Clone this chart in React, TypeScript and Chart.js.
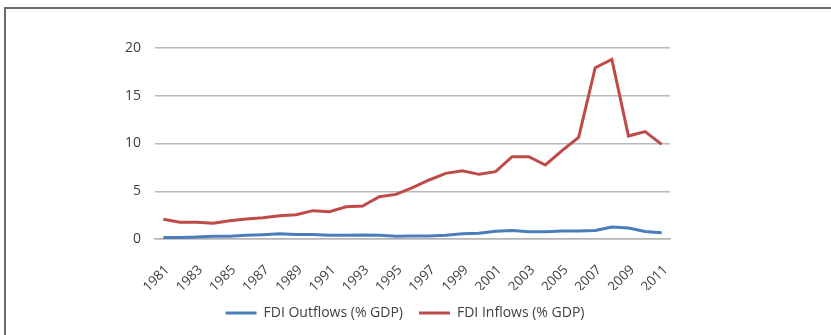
import React, { useEffect, useRef } from "react";
import { Chart, registerables } from "chart.js";

Chart.register(...registerables);

// Years on the category axis
const years: string[] = [
  "1981", "1982", "1983", "1984", "1985", "1986", "1987", "1988", "1989", "1990",
  "1991", "1992", "1993", "1994", "1995", "1996", "1997", "1998", "1999", "2000",
  "2001", "2002", "2003", "2004", "2005", "2006", "2007", "2008", "2009", "2010", "2011",
];

// FDI outflows, % of GDP
const outflows: number[] = [
  0.15, 0.15, 0.2, 0.3, 0.3, 0.38, 0.45, 0.55, 0.48, 0.48,
  0.4, 0.4, 0.42, 0.4, 0.3, 0.32, 0.32, 0.4, 0.55, 0.6,
  0.8, 0.9, 0.75, 0.75, 0.83, 0.83, 0.9, 1.25, 1.15, 0.78, 0.65,
];

// FDI inflows, % of GDP
const inflows: number[] = [
  2.06, 1.75, 1.75, 1.64, 1.92, 2.09, 2.23, 2.44, 2.55, 2.97,
  2.86, 3.38, 3.45, 4.43, 4.67, 5.38, 6.18, 6.87, 7.15, 6.77,
  7.05, 8.62, 8.62, 7.75, 9.25, 10.64, 17.94, 18.81, 10.78, 11.24, 9.91,
];

const seriesNames: string[] = ["FDI Outflows (% GDP)", "FDI Inflows (% GDP)"];
const yTicks: number[] = [0, 5, 10, 15, 20];

const FONT = "'Open Sans', 'Noto Sans', sans-serif";
const TEXT = "#404040";

// Thin dark frame along the top and left edges of the canvas
const framePlugin = {
  id: "frame",
  afterDraw(chart: Chart) {
    const { ctx, width, height } = chart;
    ctx.save();
    ctx.strokeStyle = "#6a6a6a";
    ctx.lineWidth = 2;
    ctx.beginPath();
    ctx.moveTo(5, height);
    ctx.lineTo(5, 8);
    ctx.lineTo(width, 8);
    ctx.stroke();
    ctx.restore();
  },
};

export default function App() {
  const canvasRef = useRef<HTMLCanvasElement | null>(null);

  useEffect(() => {
    if (!canvasRef.current) return;
    const chart = new Chart(canvasRef.current, {
      type: "line",
      data: {
        labels: years,
        datasets: [
          {
            label: seriesNames[0],
            data: outflows,
            borderColor: "#4a7ebb",
            backgroundColor: "#4a7ebb",
            borderWidth: 3,
            pointRadius: 0,
            tension: 0,
          },
          {
            label: seriesNames[1],
            data: inflows,
            borderColor: "#be4b48",
            backgroundColor: "#be4b48",
            borderWidth: 3,
            pointRadius: 0,
            tension: 0,
          },
        ],
      },
      options: {
        responsive: false,
        animation: false,
        devicePixelRatio: 1,
        layout: { padding: { left: 110, right: 131, top: 48, bottom: 5 } },
        plugins: {
          tooltip: { enabled: false },
          legend: {
            position: "bottom",
            labels: {
              usePointStyle: true,
              pointStyle: "line",
              pointStyleWidth: 31,
              padding: 16,
              color: TEXT,
              font: { family: FONT, size: 14 },
            },
          },
        },
        scales: {
          x: {
            type: "category",
            offset: true,
            grid: { display: false },
            border: { display: true, color: "#b4b4b4", width: 1.5 },
            ticks: {
              autoSkip: false,
              minRotation: 45,
              maxRotation: 45,
              padding: 15,
              labelOffset: 4,
              color: TEXT,
              font: { family: FONT, size: 13.5 },
              callback: (_v: any, i: number) => (i % 2 === 0 ? years[i] : ""),
            },
            afterFit: (scale: any) => {
              scale.height = 51;
            },
          },
          y: {
            min: yTicks[0],
            max: yTicks[yTicks.length - 1],
            afterBuildTicks: (scale: any) => {
              scale.ticks = yTicks.map((v) => ({ value: v }));
            },
            grid: { color: "#b8b8b8", lineWidth: 1.5, drawTicks: false },
            border: { display: false },
            ticks: {
              padding: 14,
              color: TEXT,
              font: { family: FONT, size: 14 },
            },
            afterFit: (scale: any) => {
              scale.width = 45;
            },
          },
          // empty spacer on the right so the legend sits under the plot's centre
          spacer: {
            type: "linear",
            position: "right",
            display: true,
            grid: { display: false },
            border: { display: false },
            ticks: { display: false },
            afterFit: (scale: any) => {
              scale.width = 30;
            },
          },
        },
      },
      plugins: [framePlugin],
    });
    return () => chart.destroy();
  }, []);

  return (
    <div style={{ position: "fixed", left: 0, top: 0, width: 831, height: 335, background: "#fff" }}>
      <canvas ref={canvasRef} width={831} height={335} />
    </div>
  );
}
